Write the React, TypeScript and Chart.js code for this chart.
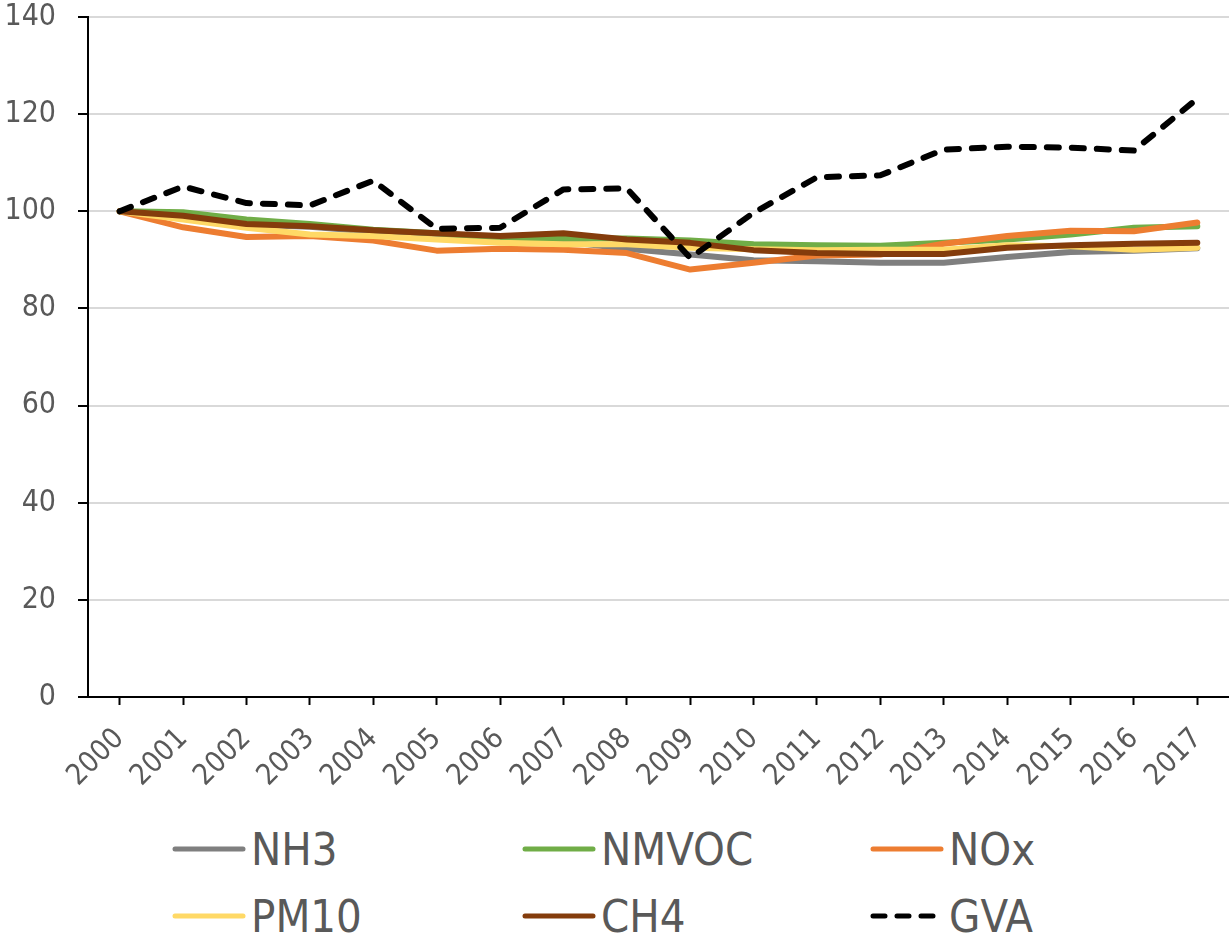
import React, { useEffect, useRef } from "react";
import { Chart, registerables } from "chart.js";

Chart.register(...registerables);

const years = ["2000","2001","2002","2003","2004","2005","2006","2007","2008","2009","2010","2011","2012","2013","2014","2015","2016","2017"];

const nh3 = [100, 98.8, 97.3, 96.8, 95.8, 95, 94.3, 93.8, 92.3, 91.1, 89.9, 89.7, 89.4, 89.4, 90.6, 91.6, 91.9, 92.4];
const nmvoc = [100, 99.8, 98.3, 97.4, 96.2, 95.5, 94.4, 94.4, 94.4, 94, 93.2, 93, 92.9, 93.5, 94.2, 95.2, 96.6, 96.9];
const nox = [100, 96.7, 94.7, 94.9, 94, 91.9, 92.3, 92.1, 91.4, 88, 89.4, 90.9, 91.1, 93.3, 94.9, 96, 95.9, 97.7];
const pm10 = [100, 98.3, 96.6, 95.2, 94.9, 94.2, 93.5, 93.2, 93.2, 92.5, 92.2, 92, 92.1, 92.1, 93, 92.8, 92.1, 92.5];
const ch4 = [100, 99.1, 97.4, 96.9, 96.1, 95.5, 94.9, 95.5, 94.2, 93.5, 92, 91.4, 91.2, 91.2, 92.5, 93, 93.3, 93.5];
const gva = [100, 105.1, 101.7, 101.2, 106.3, 96.4, 96.6, 104.5, 104.7, 90.4, 99.7, 107, 107.4, 112.7, 113.3, 113.1, 112.5, 123.2];

const seriesNames = ["NH3", "NMVOC", "NOx", "PM10", "CH4", "GVA"];
const seriesColors = ["#7f7f7f", "#70ad47", "#ed7d31", "#ffd966", "#843c0c", "#000000"];
const seriesValues = [nh3, nmvoc, nox, pm10, ch4, gva];

const FONT = "'DejaVu Sans Condensed', 'Liberation Sans', sans-serif";
const TEXT = "#595959";

export default function App() {
  const ref = useRef<HTMLCanvasElement | null>(null);

  useEffect(() => {
    if (!ref.current) return;
    const datasets = seriesNames.map((name, i) => ({
      label: name,
      data: seriesValues[i],
      borderColor: seriesColors[i],
      backgroundColor: seriesColors[i],
      borderWidth: 6,
      pointRadius: 0,
      tension: 0,
      fill: false,
      borderCapStyle: "round" as const,
      borderJoinStyle: "round" as const,
      borderDash: name === "GVA" ? [12, 13] : [],
      order: seriesNames.length - i,
    }));
    const chart = new Chart(ref.current, {
      type: "line",
      data: { labels: years, datasets },
      options: {
        animation: false,
        responsive: false,
        devicePixelRatio: 1,
        layout: { padding: { top: 0, right: 0, left: 0, bottom: 0 } },
        plugins: { legend: { display: false }, tooltip: { enabled: false } },
        scales: {
          x: {
            offset: true,
            grid: {
              display: true,
              drawOnChartArea: false,
              drawTicks: true,
              tickLength: 8,
              tickColor: "#000",
              tickWidth: 2,
              offset: false,
            },
            border: { display: true, color: "#000", width: 2 },
            ticks: {
              color: TEXT,
              font: { family: FONT, size: 29 },
              maxRotation: 45,
              minRotation: 45,
              padding: 17,
              autoSkip: false,
            },
            afterFit: (s: any) => { s.height = 103; s.paddingRight = 0; s.paddingLeft = 0; },
          },
          y: {
            min: 0,
            max: 140,
            ticks: {
              stepSize: 20,
              color: TEXT,
              font: { family: FONT, size: 30 },
              padding: 22,
            },
            grid: {
              color: "#d9d9d9",
              lineWidth: 2,
              tickLength: 10,
              tickColor: "#000",
              tickWidth: 2,
            },
            border: { display: true, color: "#000", width: 2 },
            afterFit: (s: any) => { s.width = 88; s.paddingTop = 17; s.paddingBottom = 0; },
          },
        },
      },
    });
    return () => chart.destroy();
  }, []);

  const colX = [172, 522, 870];
  const rowY = [849, 916];

  return (
    <div style={{ position: "absolute", left: 0, top: 0, width: 1229, height: 936, background: "#fff", fontFamily: FONT }}>
      <canvas ref={ref} width={1229} height={800} style={{ display: "block", width: 1229, height: 800 }} />
      {seriesNames.map((name, i) => {
        const left = colX[i % 3];
        const top = rowY[Math.floor(i / 3)] - 30;
        const dashed = name === "GVA";
        return (
          <div key={name} style={{ position: "absolute", left, top, height: 60, display: "flex", alignItems: "center" }}>
            <svg width={74} height={10} style={{ display: "block" }}>
              <line x1={3} y1={5} x2={71} y2={5} stroke={seriesColors[i]} strokeWidth={5} strokeLinecap="round" strokeDasharray={dashed ? "12 12" : undefined} />
            </svg>
            <span style={{ marginLeft: 5, fontSize: 45, color: TEXT, whiteSpace: "nowrap" }}>{name}</span>
          </div>
        );
      })}
    </div>
  );
}
